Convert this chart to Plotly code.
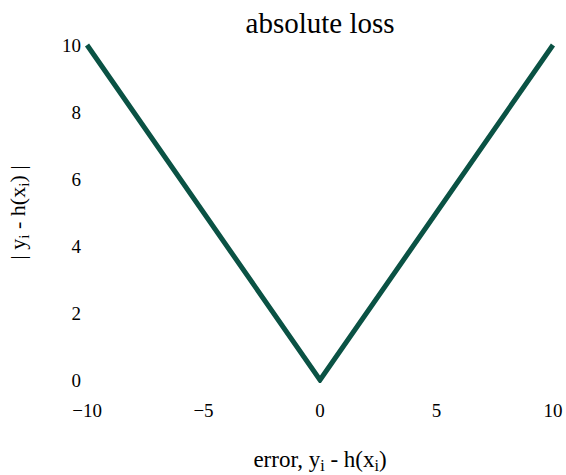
import plotly.graph_objects as go

# Absolute loss |y_i - h(x_i)| as a function of the error
errors = [-10, 0, 10]
loss = [10, 0, 10]

x_ticks = [-10, -5, 0, 5, 10]
y_ticks = [0, 2, 4, 6, 8, 10]

LINE_COLOR = "#0a5244"
FONT = "Liberation Serif"

fig = go.Figure(
    go.Scatter(
        x=errors,
        y=loss,
        mode="lines",
        line=dict(color=LINE_COLOR, width=5),
        hoverinfo="skip",
    )
)

fig.update_layout(
    width=566,
    height=475,
    margin=dict(l=84, r=10, t=42, b=92),
    plot_bgcolor="white",
    paper_bgcolor="white",
    showlegend=False,
    font=dict(family=FONT, color="black", size=19),
    title=dict(
        text="absolute loss",
        x=0.5655,
        xanchor="center",
        y=0.952,
        yanchor="middle",
        font=dict(family=FONT, size=29, color="black"),
    ),
)

fig.update_xaxes(
    range=[-10.13, 10.13],
    tickvals=x_ticks,
    showgrid=False,
    zeroline=False,
    showline=False,
    ticks="",
    automargin=False,
    ticklabeloverflow="allow",
    ticklabelstandoff=14,
    tickfont=dict(size=19),
    title=dict(text="error, y<sub>i</sub> - h(x<sub>i</sub>)", font=dict(size=23), standoff=30),
)

fig.update_yaxes(
    range=[-0.09, 10.09],
    tickvals=y_ticks,
    showgrid=False,
    zeroline=False,
    showline=False,
    ticks="",
    automargin=False,
    ticklabelstandoff=2,
    tickfont=dict(size=19),
    title=dict(text="| y<sub>i</sub> - h(x<sub>i</sub>) |", font=dict(size=22), standoff=30),
)

fig.write_html("out.html")
